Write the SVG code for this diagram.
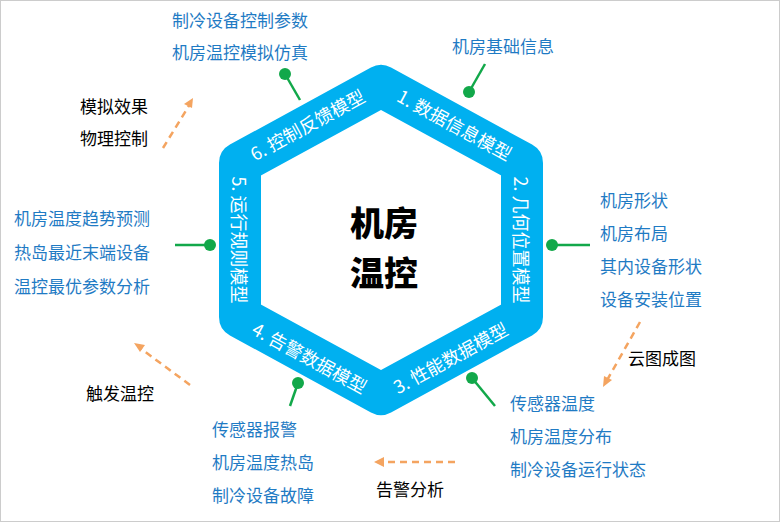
<svg xmlns="http://www.w3.org/2000/svg" width="780" height="522" viewBox="0 0 780 522">
<style>
.b{font-family:"Noto Sans CJK SC","Noto Sans",sans-serif;font-size:17px;fill:#1F7BC4}
.k{font-family:"Noto Sans CJK SC","Noto Sans",sans-serif;font-size:17px;fill:#000}
.w{font-family:"Noto Sans CJK SC","Noto Sans",sans-serif;font-size:18px;fill:#fff;text-anchor:middle;dominant-baseline:central}
.c{font-family:"Noto Sans CJK SC",sans-serif;font-weight:900;font-size:34px;fill:#000;text-anchor:middle}
.g{stroke:#12A84A;stroke-width:2.5}
.d{fill:#12A84A}
.o{stroke:#F4A460;stroke-width:2.5;stroke-dasharray:7 5;fill:none}
</style>
<rect x="0.5" y="0.5" width="779" height="521" fill="#fff" stroke="#ccc"/>
<g id="hex">
<polygon points="381,86 522,163 522,317 381,394 240,317 240,163" fill="#fff" stroke="#00B0F0" stroke-width="42" stroke-linejoin="round"/>
<text class="c" x="384" y="236">机房</text>
<text class="c" x="384" y="286">温控</text>
</g>
<g id="m1"><text class="w" transform="translate(455,124) rotate(28.6)">1. 数据信息模型</text></g>
<g id="m2"><text class="w" transform="translate(522,240) rotate(90)">2. 几何位置模型</text></g>
<g id="m3"><text class="w" transform="translate(450,357) rotate(-28.6)">3. 性能数据模型</text></g>
<g id="m4"><text class="w" transform="translate(310,357) rotate(28.6)">4. 告警数据模型</text></g>
<g id="m5"><text class="w" transform="translate(240,240) rotate(90)">5. 运行规则模型</text></g>
<g id="m6"><text class="w" transform="translate(307,124) rotate(-28.6)">6. 控制反馈模型</text></g>
<g id="connectors">
<line class="g" x1="469" y1="92" x2="485" y2="64"/><circle class="d" cx="469" cy="92" r="6"/>
<line class="g" x1="552" y1="245" x2="590" y2="245"/><circle class="d" cx="552" cy="245" r="6"/>
<line class="g" x1="472" y1="378" x2="495" y2="406"/><circle class="d" cx="472" cy="378" r="6"/>
<line class="g" x1="298" y1="383" x2="290" y2="406"/><circle class="d" cx="298" cy="383" r="6"/>
<line class="g" x1="210" y1="245" x2="175" y2="245"/><circle class="d" cx="210" cy="245" r="6"/>
<line class="g" x1="285" y1="74" x2="300" y2="100"/><circle class="d" cx="285" cy="74" r="6"/>
<path class="o" d="M163,148 L190,104"/><path d="M193,98 L184,104 L192,108 Z" fill="#F4A460"/>
<path class="o" d="M640,322 L606,382"/><path d="M603,387 L604,376 L612,380 Z" fill="#F4A460"/>
<path class="o" d="M455,462 L382,462"/><path d="M374,462 L384,457 L384,467 Z" fill="#F4A460"/>
<path class="o" d="M190,385 L140,348"/><path d="M134,343 L145,345 L140,352 Z" fill="#F4A460"/>
</g>
<g id="labels">
<text class="b" x="172" y="27">制冷设备控制参数</text>
<text class="b" x="172" y="59">机房温控模拟仿真</text>
<text class="b" x="452" y="53">机房基础信息</text>
<text class="k" x="80" y="113">模拟效果</text>
<text class="k" x="80" y="145">物理控制</text>
<text class="b" x="600" y="207">机房形状</text>
<text class="b" x="600" y="240">机房布局</text>
<text class="b" x="600" y="273">其内设备形状</text>
<text class="b" x="600" y="306">设备安装位置</text>
<text class="b" x="14" y="225">机房温度趋势预测</text>
<text class="b" x="14" y="259">热岛最近末端设备</text>
<text class="b" x="14" y="293">温控最优参数分析</text>
<text class="k" x="628" y="365">云图成图</text>
<text class="k" x="86" y="400">触发温控</text>
<text class="b" x="510" y="410">传感器温度</text>
<text class="b" x="510" y="443">机房温度分布</text>
<text class="b" x="510" y="476">制冷设备运行状态</text>
<text class="b" x="212" y="436">传感器报警</text>
<text class="b" x="212" y="469">机房温度热岛</text>
<text class="b" x="212" y="502">制冷设备故障</text>
<text class="k" x="376" y="496">告警分析</text>
</g>
</svg>
